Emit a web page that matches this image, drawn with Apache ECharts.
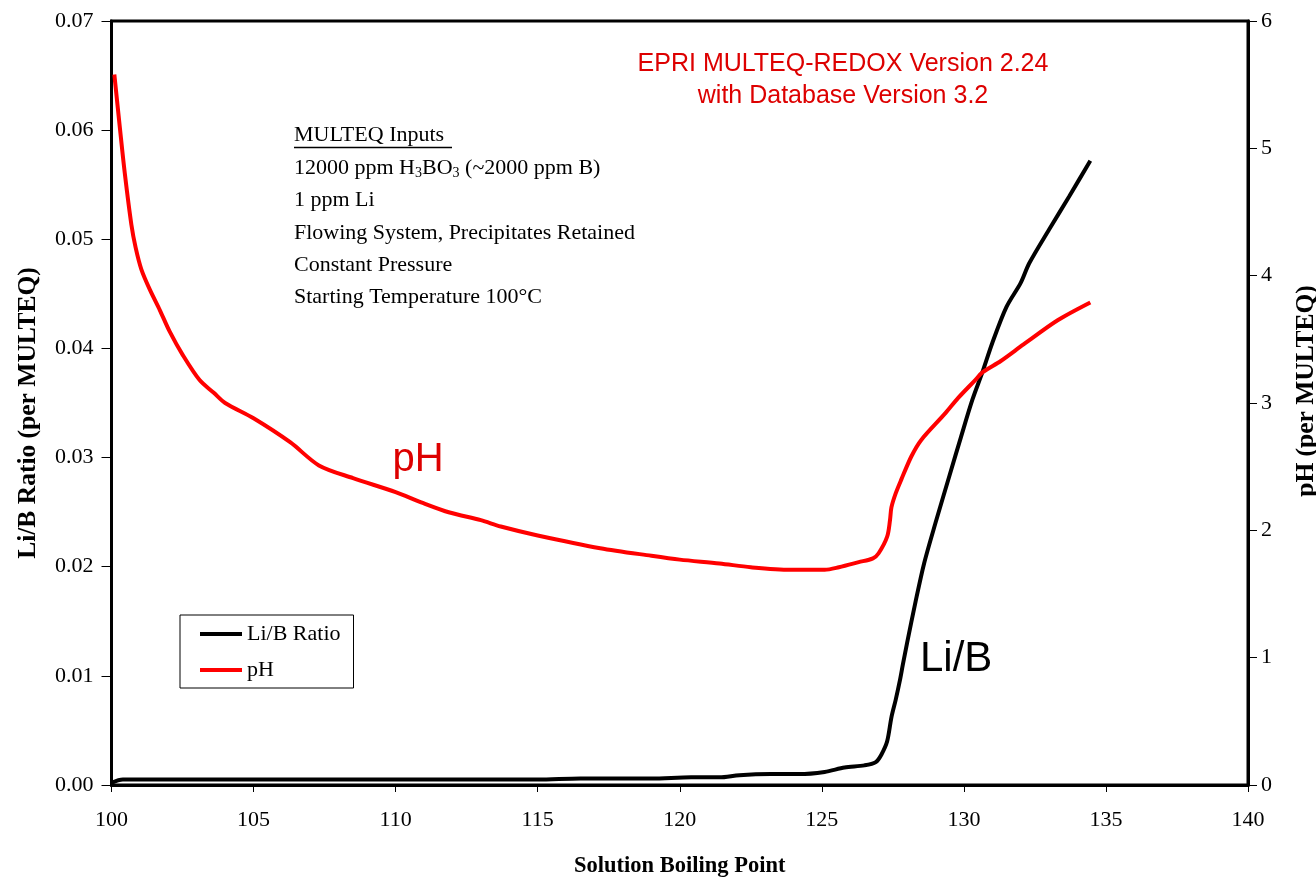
<!DOCTYPE html>
<html>
<head>
<meta charset="utf-8">
<script src="https://cdn.jsdelivr.net/npm/echarts/dist/echarts.min.js"></script>
<style>
  html, body { margin: 0; padding: 0; background: #fff; overflow: hidden; }
  #chart { width: 1316px; height: 878px; }
</style>
</head>
<body>
<div id="chart"></div>
<script>
// Solution boiling point (°C) and Li/B ratio per MULTEQ
var liBTemps = [100.0, 100.4, 101, 105, 110, 115, 116.5, 119, 120.4, 121.4, 122.1, 123.2, 124.2, 125.1, 125.8, 126.5, 126.9, 127.1, 127.3, 127.45, 127.6, 127.75, 127.85, 128.0, 128.3, 128.6, 129.0, 129.5, 129.9, 130.3, 130.65, 131.0, 131.5, 132.0, 132.3, 133.0, 133.7, 134.45];
var liBRatio = [0.0002, 0.0005, 0.0005, 0.0005, 0.0005, 0.0005, 0.0006, 0.0006, 0.0007, 0.0007, 0.0009, 0.0010, 0.0010, 0.0012, 0.0016, 0.0018, 0.0021, 0.0028, 0.0040, 0.0062, 0.0078, 0.0096, 0.0110, 0.0130, 0.0168, 0.0203, 0.0240, 0.0284, 0.0319, 0.0353, 0.0378, 0.0405, 0.0438, 0.0460, 0.0478, 0.0509, 0.0539, 0.0572];

// Solution boiling point (°C) and pH per MULTEQ
var phTemps = [100.1, 100.3, 100.47, 100.7, 100.85, 101.05, 101.35, 101.7, 102.05, 102.5, 103.1, 103.6, 104.0, 105.0, 106.3, 107.3, 108.5, 110.0, 110.9, 111.9, 113.0, 113.7, 115.0, 117.2, 119.0, 120.0, 121.4, 122.5, 123.9, 125.1, 125.6, 126.3, 126.8, 127.0, 127.3, 127.4, 127.45, 127.6, 127.8, 128.15, 128.5, 129.35, 129.8, 130.4, 130.65, 131.3, 132.1, 133.3, 134.45];
var phValues = [5.58, 5.15, 4.80, 4.40, 4.22, 4.05, 3.89, 3.73, 3.56, 3.38, 3.18, 3.08, 3.00, 2.88, 2.69, 2.51, 2.41, 2.30, 2.22, 2.14, 2.08, 2.03, 1.96, 1.86, 1.80, 1.77, 1.74, 1.71, 1.69, 1.69, 1.71, 1.75, 1.78, 1.82, 1.95, 2.08, 2.18, 2.29, 2.40, 2.58, 2.71, 2.92, 3.04, 3.18, 3.24, 3.33, 3.46, 3.65, 3.79];

// Axis tick labels
var xTicks = [100, 105, 110, 115, 120, 125, 130, 135, 140];
var leftTicks = ['0.00', '0.01', '0.02', '0.03', '0.04', '0.05', '0.06', '0.07'];
var rightTicks = ['0', '1', '2', '3', '4', '5', '6'];

var inputLines = [
  'MULTEQ Inputs',
  '12000 ppm H{s|3}BO{s|3} (~2000 ppm B)',
  '1 ppm Li',
  'Flowing System, Precipitates Retained',
  'Constant Pressure',
  'Starting Temperature 100°C'
];

function pairs(xs, ys) {
  return xs.map(function (x, i) { return [x, ys[i]]; });
}

var serif = '"Liberation Serif", "Times New Roman", serif';
var sans = '"Liberation Sans", Arial, sans-serif';

var chart = echarts.init(document.getElementById('chart'));

var graphics = [];
var lineYs = [136, 169, 201, 234, 266, 298];
inputLines.forEach(function (t, i) {
  graphics.push({
    type: 'text', left: 294, top: lineYs[i] - 12, z: 10,
    style: {
      text: t, fill: '#000', font: '22px ' + serif,
      rich: { s: { fontSize: 14, fontFamily: serif, padding: [10, 0, 0, 0] } }
    }
  });
});
graphics.push({
  type: 'line', z: 10,
  shape: { x1: 294, y1: 147.5, x2: 452, y2: 147.5 },
  style: { stroke: '#000', lineWidth: 1.3 }
});
graphics.push({
  type: 'text', z: 10, x: 843, y: 64,
  style: { text: 'EPRI MULTEQ-REDOX Version 2.24', fill: '#dd0000', font: '25px ' + sans, textAlign: 'center', textVerticalAlign: 'middle' }
});
graphics.push({
  type: 'text', z: 10, x: 843, y: 96,
  style: { text: 'with Database Version 3.2', fill: '#dd0000', font: '25px ' + sans, textAlign: 'center', textVerticalAlign: 'middle' }
});
graphics.push({
  type: 'text', z: 10, x: 418, y: 460,
  style: { text: 'pH', fill: '#dd0000', font: '40px ' + sans, textAlign: 'center', textVerticalAlign: 'middle' }
});
graphics.push({
  type: 'text', z: 10, x: 920, y: 659,
  style: { text: 'Li/B', fill: '#000', font: '42px ' + sans, textAlign: 'left', textVerticalAlign: 'middle' }
});

chart.setOption({
  animation: false,
  backgroundColor: '#fff',
  grid: {
    left: 111.5, right: 68, top: 21, bottom: 93,
    outerBoundsMode: 'none', containLabel: false,
    show: true, borderColor: '#000', borderWidth: 3, backgroundColor: 'transparent'
  },
  legend: {
    orient: 'vertical', left: 180, top: 615,
    backgroundColor: '#fff',
    borderColor: '#000', borderWidth: 1,
    padding: [7, 13, 6, 20],
    icon: 'rect',
    itemWidth: 42, itemHeight: 4, itemGap: 12,
    textStyle: { fontFamily: serif, fontSize: 22, color: '#000', lineHeight: 24 },
    data: ['Li/B Ratio', 'pH']
  },
  xAxis: {
    type: 'value', min: 100, max: 140, interval: 5,
    name: 'Solution Boiling Point', nameLocation: 'middle', nameGap: 70,
    nameTextStyle: { fontFamily: serif, fontSize: 22.5, fontWeight: 'bold', color: '#000' },
    axisLine: { lineStyle: { color: '#000', width: 3 } },
    axisTick: { inside: false, length: 7, lineStyle: { color: '#000', width: 1 } },
    axisLabel: {
      margin: 24, fontFamily: serif, fontSize: 22, color: '#000',
      formatter: function (v) { var i = xTicks.indexOf(v); return i >= 0 ? String(xTicks[i]) : ''; }
    },
    splitLine: { show: false }
  },
  yAxis: [
    {
      type: 'value', min: 0, max: 0.07, interval: 0.01, position: 'left',
      name: 'Li/B Ratio (per MULTEQ)', nameLocation: 'middle', nameGap: 70, nameRotate: 90,
      nameTextStyle: { fontFamily: serif, fontSize: 25.5, fontWeight: 'bold', color: '#000', padding: [0, 20, 0, 0] },
      axisLine: { show: true, lineStyle: { color: '#000', width: 3 } },
      axisTick: { show: true, inside: false, length: 10, lineStyle: { color: '#000', width: 1 } },
      axisLabel: {
        margin: 18, fontFamily: serif, fontSize: 22, color: '#000',
        formatter: function (v) { return leftTicks[Math.round(v * 100)]; }
      },
      splitLine: { show: false }
    },
    {
      type: 'value', min: 0, max: 6, interval: 1, position: 'right',
      name: 'pH (per MULTEQ)', nameLocation: 'middle', nameGap: 45, nameRotate: 90,
      nameTextStyle: { fontFamily: serif, fontSize: 25.5, fontWeight: 'bold', color: '#000', padding: [0, 0, 0, 24] },
      axisLine: { show: true, lineStyle: { color: '#000', width: 3 } },
      axisTick: { show: true, inside: false, length: 9, lineStyle: { color: '#000', width: 1 } },
      axisLabel: {
        margin: 13, fontFamily: serif, fontSize: 22, color: '#000',
        formatter: function (v) { return rightTicks[Math.round(v)]; }
      },
      splitLine: { show: false }
    }
  ],
  series: [
    {
      name: 'Li/B Ratio', type: 'line', yAxisIndex: 0,
      data: pairs(liBTemps, liBRatio),
      symbol: 'none', smooth: 0.3,
      lineStyle: { color: '#000', width: 4 }, itemStyle: { color: '#000' }
    },
    {
      name: 'pH', type: 'line', yAxisIndex: 1,
      data: pairs(phTemps, phValues),
      symbol: 'none', smooth: 0.3,
      lineStyle: { color: '#ff0000', width: 4 }, itemStyle: { color: '#ff0000' }
    }
  ],
  graphic: graphics
});
</script>
</body>
</html>
